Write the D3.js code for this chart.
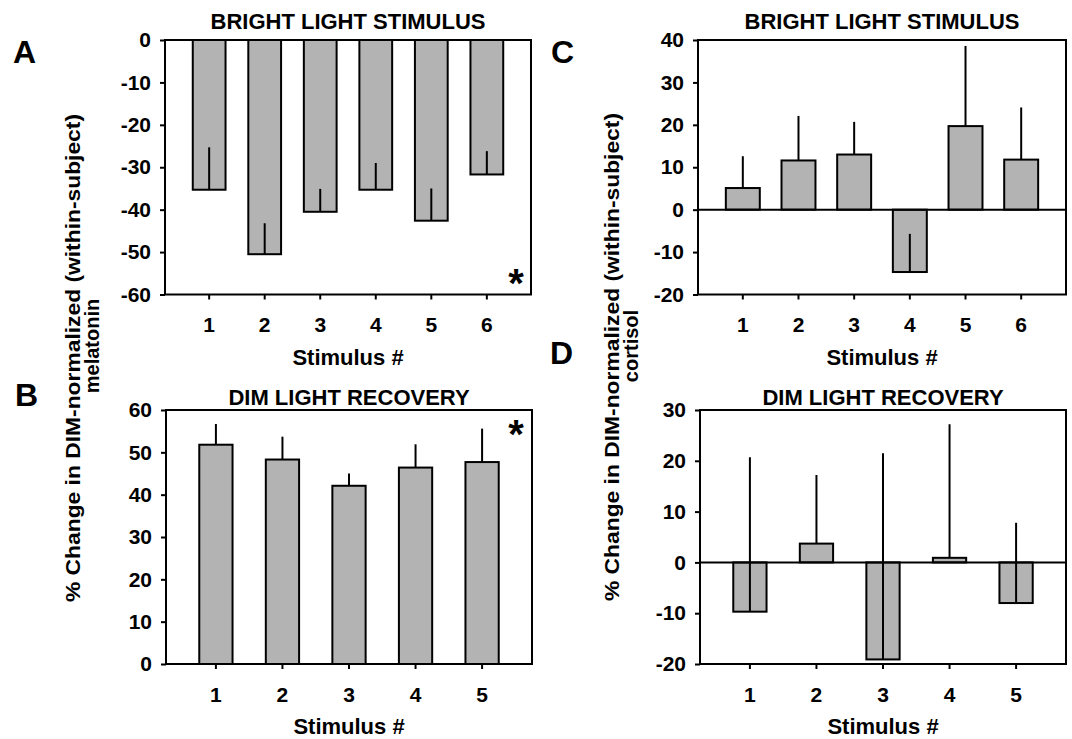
<!DOCTYPE html>
<html>
<head>
<meta charset="utf-8">
<script src="https://cdn.jsdelivr.net/npm/d3@7"></script>
<style>
  html, body { margin: 0; padding: 0; background: #fff; }
  svg text { font-family: Arial, "Liberation Sans", sans-serif; font-weight: bold; fill: #000; }
</style>
</head>
<body>
<div id="chart"></div>
<script>
// stimulus numbers
const brightStimuli = [1, 2, 3, 4, 5, 6]
const dimStimuli = [1, 2, 3, 4, 5]

// melatonin, % change (mean and SEM)
const melatoninBright = [-35.3, -50.5, -40.5, -35.3, -42.6, -31.7]
const melatoninBrightErr = [10.0, 7.3, 5.4, 6.3, 7.6, 5.5]
const melatoninDim = [51.8, 48.3, 42.1, 46.4, 47.7]
const melatoninDimErr = [4.9, 5.4, 2.9, 5.5, 7.9]

// cortisol, % change (mean and SEM)
const cortisolBright = [5.1, 11.6, 13.0, -14.7, 19.7, 11.8]
const cortisolBrightErr = [7.5, 10.5, 7.7, 9.0, 18.9, 12.3]
const cortisolDim = [-9.7, 3.7, -19.1, 0.9, -8.0]
const cortisolDimErr = [30.4, 13.5, 40.6, 26.3, 15.8]

// y tick labels
const ticksA = [0, -10, -20, -30, -40, -50, -60]
const ticksB = [0, 10, 20, 30, 40, 50, 60]
const ticksC = [40, 30, 20, 10, 0, -10, -20]
const ticksD = [30, 20, 10, 0, -10, -20]

const titleBright = "BRIGHT LIGHT STIMULUS"
const titleDim = "DIM LIGHT RECOVERY"
const xLabel = "Stimulus #"
const yLabelTop = "% Change in DIM-normalized (within-subject)"

const width = 1072
const height = 739

const svg = d3.select("#chart")
  .append("svg")
  .attr("width", width)
  .attr("height", height)

function drawPanel(p) {
  const g = svg.append("g")

  const x = d3.scaleBand()
    .domain(p.cats)
    .range([p.x0, p.x1])
    .paddingInner(p.inner)
    .paddingOuter(0.5)

  const y = d3.scaleLinear()
    .domain([d3.max(p.ticks), d3.min(p.ticks)])
    .range([p.y0, p.y1])

  // bars
  g.selectAll("rect.bar")
    .data(p.values)
    .join("rect")
    .attr("class", "bar")
    .attr("x", (d, i) => x(p.cats[i]))
    .attr("width", x.bandwidth())
    .attr("y", d => Math.min(y(d), y(0)))
    .attr("height", d => Math.abs(y(d) - y(0)))
    .attr("fill", "#b3b3b3")
    .attr("stroke", "#000")
    .attr("stroke-width", 2)

  // error bars, one-sided, upward
  g.selectAll("line.err")
    .data(p.values)
    .join("line")
    .attr("class", "err")
    .attr("x1", (d, i) => x(p.cats[i]) + x.bandwidth() / 2)
    .attr("x2", (d, i) => x(p.cats[i]) + x.bandwidth() / 2)
    .attr("y1", d => y(d))
    .attr("y2", (d, i) => y(d + p.errs[i]))
    .attr("stroke", "#000")
    .attr("stroke-width", 2)

  // zero line
  if (y(0) > p.y0 && y(0) < p.y1) {
    g.append("line")
      .attr("x1", p.x0).attr("x2", p.x1)
      .attr("y1", y(0)).attr("y2", y(0))
      .attr("stroke", "#000")
      .attr("stroke-width", 2)
  }

  // frame
  g.append("rect")
    .attr("x", p.x0).attr("y", p.y0)
    .attr("width", p.x1 - p.x0)
    .attr("height", p.y1 - p.y0)
    .attr("fill", "none")
    .attr("stroke", "#000")
    .attr("stroke-width", 2)

  // plain hyphen for negatives, like the original
  const yAxis = g.append("g")
    .attr("transform", `translate(${p.x0},0)`)
    .call(d3.axisLeft(y)
      .tickValues(p.ticks)
      .tickFormat(d => String(d))
      .tickSize(5).tickSizeOuter(0).tickPadding(9))
  yAxis.select(".domain").remove()

  const xAxis = g.append("g")
    .attr("transform", `translate(0,${p.y1})`)
    .call(d3.axisBottom(x).tickSize(5).tickSizeOuter(0).tickPadding(18))
  xAxis.select(".domain").remove()

  g.selectAll(".tick line").attr("stroke", "#000").attr("stroke-width", 2)
  g.selectAll(".tick text")
    .attr("font-size", "21px")
    .attr("font-family", null)
    .attr("fill", "#000")

  // title
  g.append("text")
    .attr("x", (p.x0 + p.x1) / 2)
    .attr("y", p.titleY)
    .attr("text-anchor", "middle")
    .attr("font-size", "22px")
    .text(p.title)

  // x label
  g.append("text")
    .attr("x", (p.x0 + p.x1) / 2)
    .attr("y", p.y1 + 70)
    .attr("text-anchor", "middle")
    .attr("font-size", "22px")
    .text(xLabel)

  // panel letter
  g.append("text")
    .attr("x", p.letterX)
    .attr("y", p.letterY)
    .attr("font-size", "32px")
    .text(p.letter)

  if (p.star) {
    g.append("text")
      .attr("x", p.star[0])
      .attr("y", p.star[1])
      .attr("text-anchor", "middle")
      .attr("font-size", "40px")
      .text("*")
  }
}

drawPanel({
  letter: "A", letterX: 13, letterY: 63,
  title: titleBright, titleY: 28.5,
  cats: brightStimuli, values: melatoninBright, errs: melatoninBrightErr,
  ticks: ticksA, inner: 0.41,
  x0: 165, x1: 531, y0: 40, y1: 294.5,
  star: [516, 297]
})

drawPanel({
  letter: "B", letterX: 15, letterY: 406,
  title: titleDim, titleY: 405,
  cats: dimStimuli, values: melatoninDim, errs: melatoninDimErr,
  ticks: ticksB, inner: 0.5,
  x0: 166, x1: 532, y0: 410, y1: 664,
  star: [516, 448]
})

drawPanel({
  letter: "C", letterX: 551, letterY: 63,
  title: titleBright, titleY: 28.5,
  cats: brightStimuli, values: cortisolBright, errs: cortisolBrightErr,
  ticks: ticksC, inner: 0.39,
  x0: 698, x1: 1066, y0: 40, y1: 294.5
})

drawPanel({
  letter: "D", letterX: 550, letterY: 364,
  title: titleDim, titleY: 405,
  cats: dimStimuli, values: cortisolDim, errs: cortisolDimErr,
  ticks: ticksD, inner: 0.5,
  x0: 700, x1: 1066, y0: 410, y1: 664
})

// shared y labels, one per column
function yLabel(cx, line2, cy1, cy2) {
  svg.append("text")
    .attr("transform", `translate(${cx},${cy1}) rotate(-90)`)
    .attr("text-anchor", "middle")
    .attr("font-size", "20px")
    .attr("textLength", 488)
    .attr("lengthAdjust", "spacingAndGlyphs")
    .text(yLabelTop)
  svg.append("text")
    .attr("transform", `translate(${cx + 18.5},${cy2}) rotate(-90)`)
    .attr("text-anchor", "middle")
    .attr("font-size", "20px")
    .text(line2)
}

yLabel(80, "melatonin", 358, 346)
yLabel(619, "cortisol", 357, 346)
</script>
</body>
</html>
